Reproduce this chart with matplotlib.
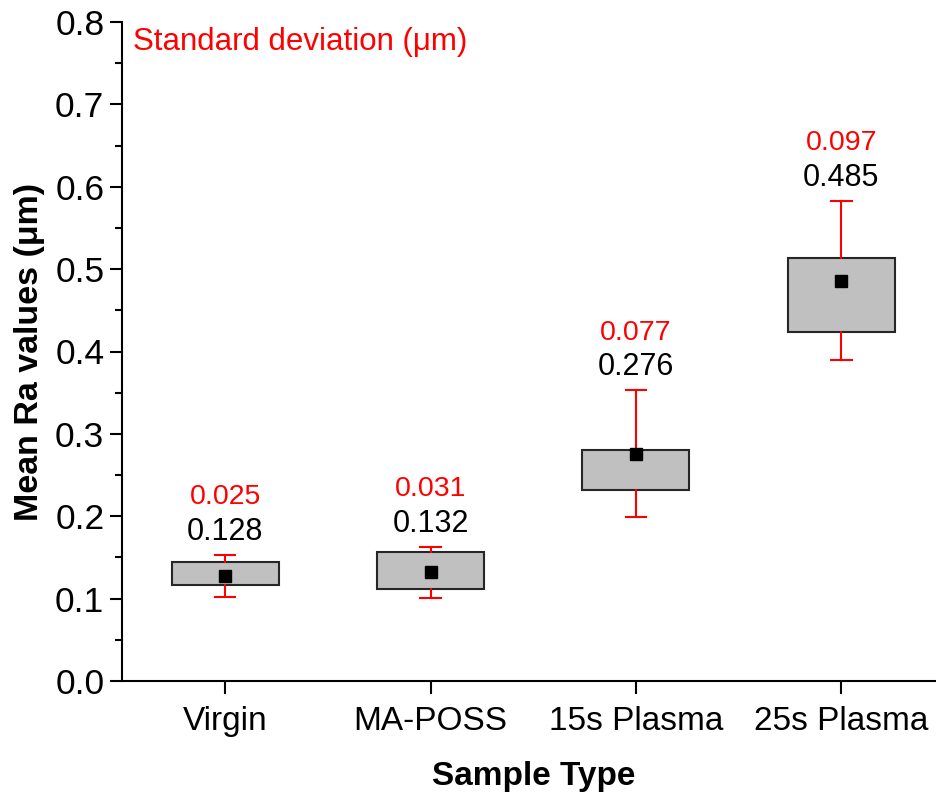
import matplotlib
matplotlib.use("Agg")
import matplotlib.pyplot as plt
from matplotlib.ticker import MultipleLocator

plt.rcParams['font.family'] = ['Liberation Sans', 'DejaVu Sans']

# 数据
samples = ['Virgin', 'MA-POSS', '15s Plasma', '25s Plasma']
mean_ra = [0.127, 0.132, 0.276, 0.485]
box_low = [0.117, 0.112, 0.232, 0.424]
box_high = [0.144, 0.157, 0.281, 0.513]
whisker_low = [0.102, 0.101, 0.199, 0.390]
whisker_high = [0.153, 0.163, 0.353, 0.583]
mean_labels = ['0.128', '0.132', '0.276', '0.485']
sd_labels = ['0.025', '0.031', '0.077', '0.097']

fig = plt.figure(figsize=(9.36, 7.96), dpi=100)
ax = fig.add_axes([122.4 / 936, 115 / 796, 821.6 / 936, 659 / 796])

# 构造箱线图统计量
stats = []
for i in range(len(samples)):
    stats.append({
        'label': samples[i],
        'mean': mean_ra[i],
        'med': mean_ra[i],
        'q1': box_low[i],
        'q3': box_high[i],
        'whislo': whisker_low[i],
        'whishi': whisker_high[i],
        'fliers': [],
    })

positions = list(range(1, len(samples) + 1))
ax.bxp(stats, positions=positions, widths=0.52, capwidths=0.1,
       showmeans=True, showfliers=False, patch_artist=True,
       boxprops=dict(facecolor='#c0c0c0', edgecolor='#262626', linewidth=1.5),
       whiskerprops=dict(color='red', linewidth=1.5),
       capprops=dict(color='red', linewidth=1.5),
       medianprops=dict(linewidth=0),
       meanprops=dict(marker='s', markerfacecolor='black', markeredgecolor='black',
                      markersize=8.5))

# 数值标注
for i, pos in enumerate(positions):
    ax.annotate(mean_labels[i], xy=(pos, whisker_high[i]), xytext=(0, 16.5),
                textcoords='offset points', ha='center', va='center',
                fontsize=22, color='black')
    ax.annotate(sd_labels[i], xy=(pos, whisker_high[i]), xytext=(0, 41.5),
                textcoords='offset points', ha='center', va='center',
                fontsize=20.5, color='red')

ax.text(0.013, 0.97, 'Standard deviation (\u03bcm)', transform=ax.transAxes,
        ha='left', va='center', fontsize=22.5, color='red')

ax.set_xlim(0.5, 4.5)
ax.set_ylim(0, 0.8)
ax.yaxis.set_major_locator(MultipleLocator(0.1))
ax.yaxis.set_minor_locator(MultipleLocator(0.05))
ax.yaxis.set_major_formatter(plt.FormatStrFormatter('%.1f'))
ax.set_xticks(positions)
ax.set_xticklabels(samples)

for side in ['top', 'right']:
    ax.spines[side].set_visible(False)
for side in ['left', 'bottom']:
    ax.spines[side].set_linewidth(1.5)

ax.tick_params(axis='both', which='major', direction='out', length=9, width=1.5)
ax.tick_params(axis='y', which='minor', direction='out', length=5, width=1.5)
ax.tick_params(axis='y', which='major', pad=4, labelsize=25.5)
ax.tick_params(axis='x', which='major', pad=9, labelsize=24)

ax.set_xlabel('Sample Type', fontsize=24, fontweight='bold', labelpad=17)
ax.set_ylabel('Mean Ra values (\u03bcm)', fontsize=24.5, fontweight='bold', labelpad=7)

fig.savefig('out.png', dpi=100)
